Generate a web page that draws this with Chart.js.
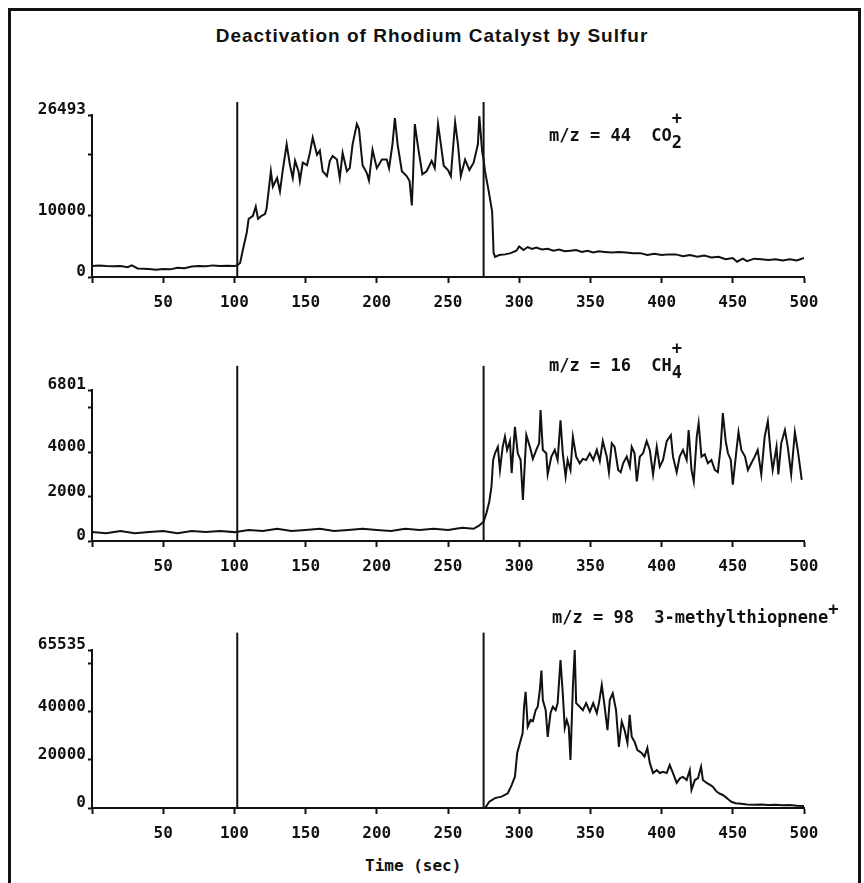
<!DOCTYPE html>
<html>
<head>
<meta charset="utf-8">
<script src="https://cdn.jsdelivr.net/npm/chart.js@4.4.0/dist/chart.umd.min.js"></script>
<style>
  body { margin: 0; background: #fff; width: 864px; height: 883px; overflow: hidden; position: relative; }
  #frame { position: absolute; left: 8px; top: 8px; width: 847px; height: 900px; border: 3px solid #111; border-bottom: none; }
  canvas { position: absolute; left: 0; }
  #title { position: absolute; left: 0; width: 864px; top: 26px; text-align: center;
           font: bold 19px/19px "Liberation Sans", Arial, sans-serif; letter-spacing: 1px; color: #111; }
  .note { position: absolute; font: bold 17px/17px "DejaVu Sans Mono", monospace; white-space: pre; color: #111; z-index: 2; }
  .ion { position: relative; display: inline-block; }
  .ion .sup { position: absolute; left: 0; top: -17px; }
  .ion .sub { position: relative; top: 7px; }
  .raised { position: relative; top: -8px; }
  #xtitle { position: absolute; left: 365px; top: 858px; font: bold 16px/16px "DejaVu Sans Mono", monospace; white-space: pre; color: #111; }
</style>
</head>
<body>
<div id="frame"></div>
<div id="title">Deactivation of Rhodium Catalyst by Sulfur</div>

<canvas id="c1" width="864" height="227" style="top:95px"></canvas>
<canvas id="c2" width="864" height="231" style="top:355px"></canvas>
<canvas id="c3" width="864" height="228" style="top:625px"></canvas>

<div class="note" style="left:549px; top:127px">m/z = 44  CO<span class="ion"><span class="sup">+</span><span class="sub">2</span></span></div>
<div class="note" style="left:549px; top:357px">m/z = 16  CH<span class="ion"><span class="sup">+</span><span class="sub">4</span></span></div>
<div class="note" style="left:552px; top:609px">m/z = 98  3-methylthiopnene<span class="raised">+</span></div>
<div id="xtitle">Time (sec)</div>

<script>
// --------------------------
// Data
// --------------------------
// times (sec) at which the gases were switched
const switchTimes = [102, 275];

// m/z = 44, CO2+
const co2Times = [0, 5, 10, 15, 20, 25, 28, 32, 40, 45, 50, 55, 60, 65, 70, 75, 80, 85, 90, 95, 100, 102,
  104, 106, 108.7, 110, 113, 115, 116.6, 119, 121.5, 122.6, 124, 125.6, 127, 130, 132, 134, 136.7, 139,
  141, 142.6, 145, 146, 148, 151, 153, 155, 158, 160, 162, 165, 167, 169, 172, 174, 176, 179, 181, 183,
  186, 187.5, 190, 193, 194.5, 197, 200, 203.6, 207, 208.6, 211, 212.7, 214.6, 217.6, 221, 223, 224.6,
  225.5, 226.7, 229, 232, 235, 238.5, 240.7, 243, 245, 247, 250, 252, 255, 257, 259, 262, 265, 268, 271,
  272, 274, 275, 276, 278.6, 281, 282, 283, 286, 290, 294, 298, 300, 303, 306, 309, 312, 316, 320, 324,
  328, 332, 336, 340, 344, 348, 352, 356, 360, 365, 370, 375, 380, 385, 390, 395, 400, 405, 410, 415,
  420, 425, 430, 435, 440, 445, 450, 453, 457, 460, 465, 470, 475, 480, 485, 490, 495, 500];
const co2Values = [1800, 1900, 1800, 1750, 1800, 1600, 1900, 1400, 1300, 1200, 1300, 1250, 1500, 1450, 1700, 1800, 1750, 1900, 1800, 1850, 1800, 1900,
  2300, 4500, 7300, 9500, 10000, 11500, 9500, 10000, 10300, 11200, 14000, 17300, 14800, 16200, 14000, 17500, 21700, 18300,
  16200, 19000, 17300, 15700, 18700, 18300, 20300, 22800, 20000, 20700, 17300, 16500, 19000, 19800, 19200, 16200, 20300, 17300, 17800, 21700,
  25000, 24200, 18300, 17000, 15800, 20800, 17800, 19200, 19200, 17800, 21700, 26000, 21700, 17300, 16500, 15700, 11700,
  16800, 25000, 21200, 16800, 17300, 19000, 17800, 25000, 21700, 18200, 17500, 16500, 25300, 21700, 16500, 19200, 17500, 18700, 21700,
  26300, 20500, 19200, 17300, 14000, 10700, 4000, 3300, 3600, 3700, 3900, 4300, 5000, 4400, 4900, 4600, 4800, 4500, 4600, 4300,
  4500, 4200, 4300, 4400, 4100, 4300, 4000, 4200, 4100, 4000, 4100, 4000, 3900, 3900, 3600, 3800, 3600, 3700, 3700, 3400,
  3600, 3300, 3500, 3200, 3300, 2900, 3100, 2500, 3000, 2600, 3000, 2900, 2800, 2900, 2700, 2900, 2700, 3100];

// m/z = 16, CH4+
const ch4Times = [0, 10, 20, 30, 40, 50, 60, 70, 80, 90, 100, 110, 120, 130, 140, 150, 160, 170, 180, 190,
  200, 210, 220, 230, 240, 250, 260, 268, 272, 275, 277, 279, 280.5, 281.7, 283, 285, 286.5, 288.4, 290,
  291.5, 293.5, 294.7, 297, 299, 301, 302.6, 305, 307.5, 309.6, 312, 314, 315, 316.6, 319, 320, 322.6,
  325, 327, 329, 330.6, 332.6, 334, 336, 337.7, 340, 342.5, 344.7, 347, 349.6, 352, 354.5, 356.6, 358.7,
  361.5, 363, 365, 367, 369.5, 371.3, 373, 375.5, 377.7, 379, 381, 382.6, 384.7, 387, 389.5, 391.7, 394,
  396.6, 398.7, 401, 403.6, 406.5, 408, 410.6, 412.7, 415, 417.6, 419, 421, 422.6, 424.7, 426, 428, 430.3,
  432.5, 435, 437.4, 439.5, 441.5, 443, 445, 446.6, 448.6, 450, 452.6, 454, 456, 458.6, 460.6, 463, 465.4,
  467.5, 470, 472.4, 474.6, 476.6, 478, 480.7, 482, 484, 486.6, 488.6, 491, 493.6, 495.6, 498.4];
const ch4Values = [400, 350, 450, 350, 400, 450, 350, 450, 400, 450, 400, 500, 450, 550, 450, 500, 550, 450, 500, 550,
  500, 450, 550, 500, 550, 500, 600, 550, 700, 870, 1260, 1770, 2440, 3640, 3950, 4240, 3200, 4240, 4700,
  4100, 4500, 3060, 5140, 3950, 3650, 1850, 4770, 4240, 3700, 4100, 4400, 5900, 4100, 3950, 3000, 3800,
  4100, 3650, 5440, 3950, 2900, 3650, 3200, 4700, 3800, 3500, 3700, 3650, 3950, 3650, 4100, 3600, 4500,
  3800, 3100, 4400, 4240, 3200, 3100, 3500, 3800, 3350, 4240, 3950, 2680, 3800, 3950, 4500, 4100, 3000,
  4240, 3350, 3650, 4500, 4770, 3800, 3100, 3800, 4100, 3650, 5000, 3200, 2680, 4700, 5300, 3800, 3900,
  3500, 3650, 3200, 3100, 4240, 5760, 4500, 3950, 3650, 2540, 4100, 4900, 4100, 3800, 3200, 3500, 3800,
  4100, 3000, 4700, 5400, 3950, 3200, 4240, 3000, 4400, 5000, 4240, 3000, 4900, 4100, 2750];

// m/z = 98, 3-methylthiophene+
const mtTimes = [0, 276, 279, 283, 287.6, 292, 294.7, 297, 298.6, 300.5, 302.4, 303.4, 304.5, 306, 308, 309.6,
  311.6, 313, 314.5, 315.6, 316.6, 318.6, 320, 322, 323.6, 325.6, 327, 329, 330.6, 332, 333.4, 334.8, 336,
  337.7, 339, 340, 342.5, 344.7, 347, 349.6, 352, 354.5, 356, 358, 360, 362, 363.6, 365.7, 368, 370, 372,
  374, 376, 377.6, 379, 381, 383, 386, 388, 390, 391.7, 394, 396.6, 398.7, 401, 403.6, 405.7, 408, 410.6,
  413, 415, 417.6, 419.8, 421, 423.4, 425.6, 427.7, 429, 431.7, 434, 436, 438.6, 441, 443, 445, 447, 449,
  452, 456, 460, 465, 470, 475, 480, 485, 490, 495, 500];
const mtValues = [0, 0, 2600, 4100, 4700, 6100, 9500, 13000, 22800, 27000, 31000, 42000, 48200, 33700, 36500, 36000,
  40600, 42000, 49000, 57000, 44800, 40600, 29500, 39400, 42000, 40600, 43500, 61400, 47600, 33200, 36500, 33700, 19900,
  50300, 65500, 43500, 42000, 40600, 43500, 40000, 43500, 39400, 43500, 51000, 42000, 32300, 44800, 47600, 40600, 25400, 35800,
  32300, 27000, 38600, 29600, 27500, 24000, 22800, 21300, 24900, 18700, 14500, 15700, 14500, 15000, 14500, 17800, 14500, 10400,
  12400, 12900, 11600, 15700, 7500, 11600, 12400, 17100, 11600, 10400, 9600, 8800, 6800, 5900, 5400, 4500, 3500, 2600,
  2000, 1800, 1500, 1300, 1500, 1200, 1300, 1100, 1200, 900, 800];

// y axes: tick values and the ones that carry a label
const co2Ticks = [0, 10000, 20000, 26493];
const co2Labels = [0, 10000, 26493];
const ch4Ticks = [0, 2000, 4000, 6000, 6801];
const ch4Labels = [0, 2000, 4000, 6801];
const mtTicks = [0, 20000, 40000, 60000, 65535];
const mtLabels = [0, 20000, 40000, 65535];

const xTicks = [0, 50, 100, 150, 200, 250, 300, 350, 400, 450, 500];

// ==========================
// Panel builder
// ==========================
const ink = "#111";
const tickFont = { family: "DejaVu Sans Mono", size: 16, weight: "bold" };

function panel(id, times, values, yTicks, yLabels, reach, padTop) {
    const yMax = yTicks[yTicks.length - 1];
    const trace = times.map((t, i) => ({ x: t, y: values[i] }));
    // vertical switch markers reach a bit above the top of the axis
    const markers = switchTimes.map(t => ({
        data: [{ x: t, y: 0 }, { x: t, y: yMax * reach }],
        borderColor: ink, borderWidth: 2, pointRadius: 0, clip: false
    }));

    return new Chart(document.getElementById(id), {
        type: "line",
        data: {
            datasets: [{
                data: trace,
                borderColor: ink,
                borderWidth: 2,
                pointRadius: 0,
                tension: 0
            }, ...markers]
        },
        options: {
            responsive: false,
            animation: false,
            layout: { padding: { top: padTop, right: 60, left: 0, bottom: 0 } },
            plugins: { legend: { display: false }, tooltip: { enabled: false } },
            scales: {
                x: {
                    type: "linear", min: 0, max: 500,
                    afterFit: s => { s.height = 45; },
                    afterBuildTicks: s => { s.ticks = xTicks.map(v => ({ value: v })); },
                    ticks: { callback: v => v === 0 ? "" : v, font: tickFont, color: ink, padding: 10, maxRotation: 0, autoSkip: false },
                    grid: { drawOnChartArea: false, tickLength: 6, tickWidth: 2, tickColor: ink },
                    border: { color: ink, width: 2 }
                },
                y: {
                    min: 0, max: yMax,
                    afterFit: s => { s.width = 92; },
                    afterBuildTicks: s => { s.ticks = yTicks.map(v => ({ value: v })); },
                    ticks: { callback: v => yLabels.includes(v) ? String(v) : "", font: tickFont, color: ink, padding: 2, labelOffset: -5, autoSkip: false },
                    grid: { drawOnChartArea: false, tickLength: 4, tickWidth: 2, tickColor: ink },
                    border: { color: ink, width: 2 }
                }
            }
        }
    });
}

panel("c1", co2Times, co2Values, co2Ticks, co2Labels, 1.08, 20);
panel("c2", ch4Times, ch4Values, ch4Ticks, ch4Labels, 1.16, 35);
panel("c3", mtTimes, mtValues, mtTicks, mtLabels, 1.11, 25);
</script>
</body>
</html>
